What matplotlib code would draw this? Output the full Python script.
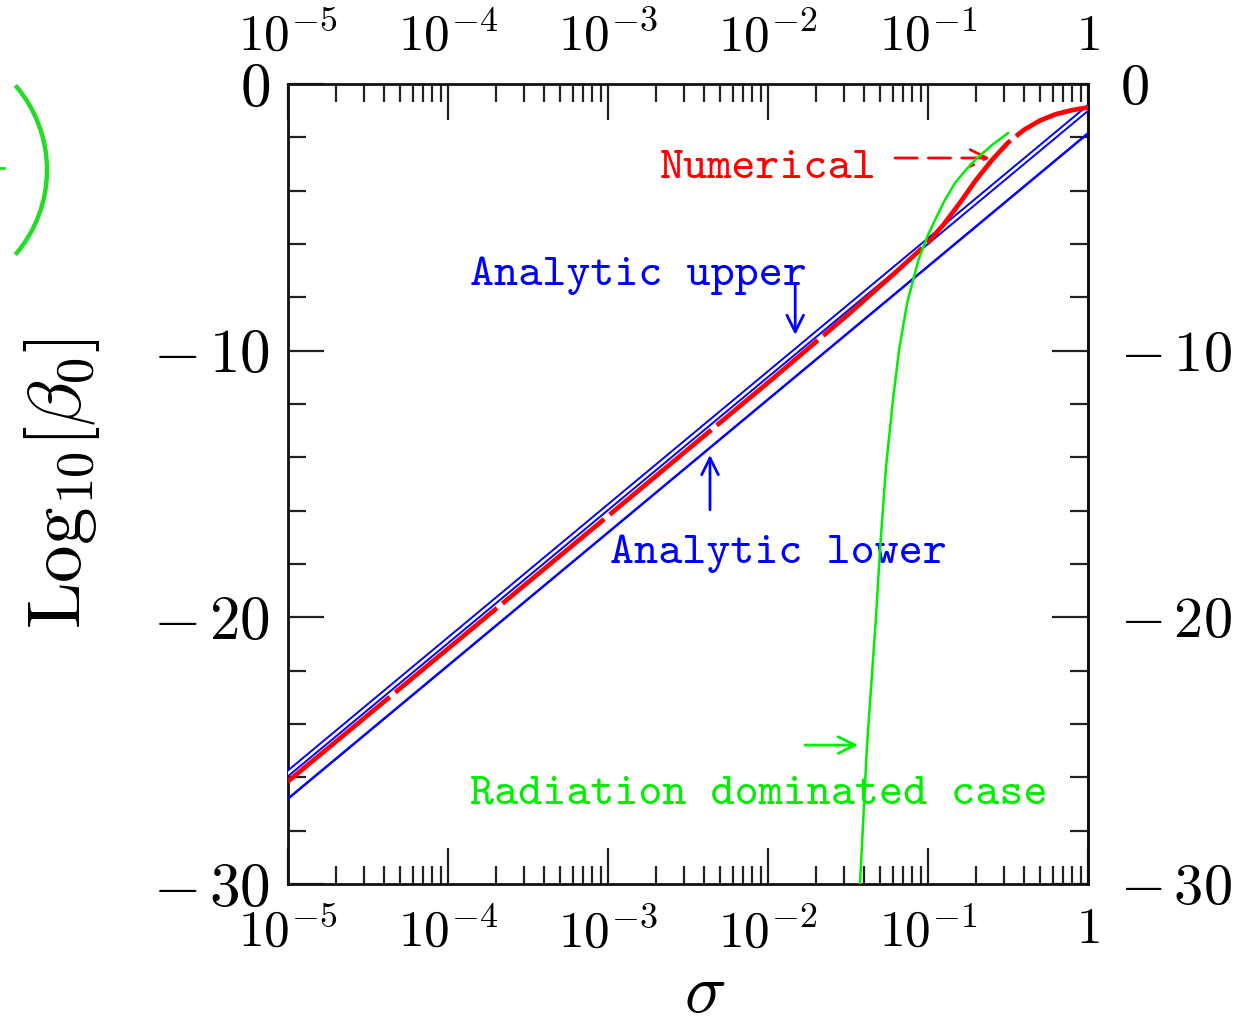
import numpy as np
import matplotlib.pyplot as plt
from matplotlib import patches

plt.rcParams['mathtext.fontset'] = 'cm'
plt.rcParams['font.family'] = 'serif'
plt.rcParams['font.serif'] = ['cmr10', 'DejaVu Serif']
plt.rcParams['axes.unicode_minus'] = True

# analytic bounds (straight lines in log-log)
sigma_an = [1e-5, 1.0]
beta_upper = [-25.85, -0.9]
beta_lower = [-26.8, -1.85]

# numerical solution
log_sigma_num = [-5.0, -3.0, -2.0, -1.5, -1.2, -1.0, -0.9, -0.8, -0.7, -0.6, -0.5,
                 -0.4, -0.3, -0.2, -0.1, 0.0]
beta_num = [-26.15, -16.2, -11.2, -8.65, -7.05, -5.95, -5.25, -4.45, -3.6, -2.85, -2.2,
            -1.72, -1.37, -1.13, -0.98, -0.88]

# radiation dominated case
log_sigma_rad = [-1.425, -1.381, -1.325, -1.30, -1.2625, -1.219, -1.181, -1.13, -1.06,
                 -1.0, -0.944, -0.894, -0.83, -0.76, -0.706, -0.6, -0.5]
beta_rad = [-30.0, -24.79, -19.99, -17.47, -14.36, -11.85, -9.97, -8.2, -6.6,
            -5.66, -4.95, -4.35, -3.7, -3.2, -2.85, -2.29, -1.84]

xticks = [1e-5, 1e-4, 1e-3, 1e-2, 1e-1, 1]
xticklabels = [r'$10^{-5}$', r'$10^{-4}$', r'$10^{-3}$', r'$10^{-2}$', r'$10^{-1}$', r'$1$']
yticks = [-30, -20, -10, 0]
yticklabels = [r'$-\,30$', r'$-\,20$', r'$-\,10$', r'$0$']

RED = '#ff0000'
BLUE = '#0000ff'
GREEN = '#00ee00'

fig = plt.figure(figsize=(12.39, 10.25), dpi=100)

# stray bracket at the top left
deco = fig.add_axes([0, 0, 1, 1], zorder=-1)
deco.set_xlim(0, 1239)
deco.set_ylim(1025, 0)
deco.axis('off')
deco.add_patch(patches.Arc((-82, 170), 258, 258, theta1=-41, theta2=41,
                           color='#22dd22', lw=3.2))
deco.plot([0, 4], [168, 168], color='#22dd22', lw=2)

ax = fig.add_axes([288/1239, 1 - 884/1025, 800/1239, 800/1025])
ax.set_xscale('log')
ax.set_xlim(1e-5, 1)
ax.set_ylim(-30, 0)

ax.plot(sigma_an, beta_lower, color=BLUE, lw=1.8, zorder=3)
ax.plot(sigma_an, beta_upper, color=BLUE, lw=4.6, zorder=3)
ax.plot(sigma_an, beta_upper, color='white', lw=1.8, zorder=3)
ax.plot(10**np.array(log_sigma_num), beta_num, color=RED, lw=3.4,
        dashes=(28, 1.5), zorder=4)
ax.plot(10**np.array(log_sigma_rad), beta_rad, color=GREEN, lw=1.8, zorder=5)

# labels and arrows
tfont = dict(family='cmtt10', size=33)
arrow = dict(arrowstyle='->', lw=2, mutation_scale=30, shrinkA=0, shrinkB=0)
ax.text(10**-2.675, -3.2, 'Numerical', color=RED, va='center', ha='left', **tfont)
ax.annotate('', xy=(10**-0.6125, -2.775), xytext=(10**-1.206, -2.775),
            arrowprops=dict(color=RED, linestyle=(0, (8, 4)), **arrow))
ax.text(10**-3.8625, -7.2, 'Analytic upper', color=BLUE, va='center', ha='left', **tfont)
ax.annotate('', xy=(10**-1.83, -9.41), xytext=(10**-1.83, -7.54),
            arrowprops=dict(color=BLUE, **arrow))
ax.text(10**-2.9875, -17.62, 'Analytic lower', color=BLUE, va='center', ha='left', **tfont)
ax.annotate('', xy=(10**-2.3625, -13.91), xytext=(10**-2.3625, -15.97),
            arrowprops=dict(color=BLUE, **arrow))
ax.text(10**-3.8625, -26.65, 'Radiation dominated case', color=GREEN, va='center',
        ha='left', **tfont)
ax.annotate('', xy=(10**-1.4375, -24.79), xytext=(10**-1.769, -24.79),
            arrowprops=dict(color=GREEN, **arrow))

# axes decoration
for sp in ax.spines.values():
    sp.set_linewidth(2)
    sp.set_color('#111111')

ax.set_xticks(xticks)
ax.set_xticklabels(xticklabels)
ax.set_xticks([m * d for d in xticks[:-1] for m in range(2, 10)], minor=True)
ax.xaxis.set_minor_formatter(plt.NullFormatter())
ax.set_yticks(yticks)
ax.set_yticklabels(yticklabels)
ax.set_yticks(np.arange(-30, 1, 2), minor=True)

ax.tick_params(which='both', direction='in', top=True, right=False,
               labeltop=True, width=1.6, color='#222222')
ax.tick_params(which='major', length=26)
ax.tick_params(which='minor', length=13)
ax.tick_params(axis='x', which='major', labelsize=37, pad=17)
ax.tick_params(axis='y', which='major', labelsize=44, pad=13)

# right-hand axis, labels set further out
rax = ax.secondary_yaxis('right')
rax.set_yticks(yticks)
rax.set_yticklabels(yticklabels)
rax.set_yticks(np.arange(-30, 1, 2), minor=True)
rax.tick_params(which='both', direction='in', width=1.6, color='#222222')
rax.tick_params(which='major', length=26, labelsize=42, pad=23)
rax.tick_params(which='minor', length=13)
rax.spines['right'].set_linewidth(2)
rax.spines['right'].set_color('#111111')

ax.set_xlabel(r'$\sigma$', fontsize=50)
ax.xaxis.set_label_coords(0.521, -0.10)
ax.set_ylabel(r'$\mathrm{Log}_{10}[\beta_0]$', fontsize=54)
ax.yaxis.set_label_coords(-0.232, 0.5)

fig.savefig('out.png', dpi=100)
